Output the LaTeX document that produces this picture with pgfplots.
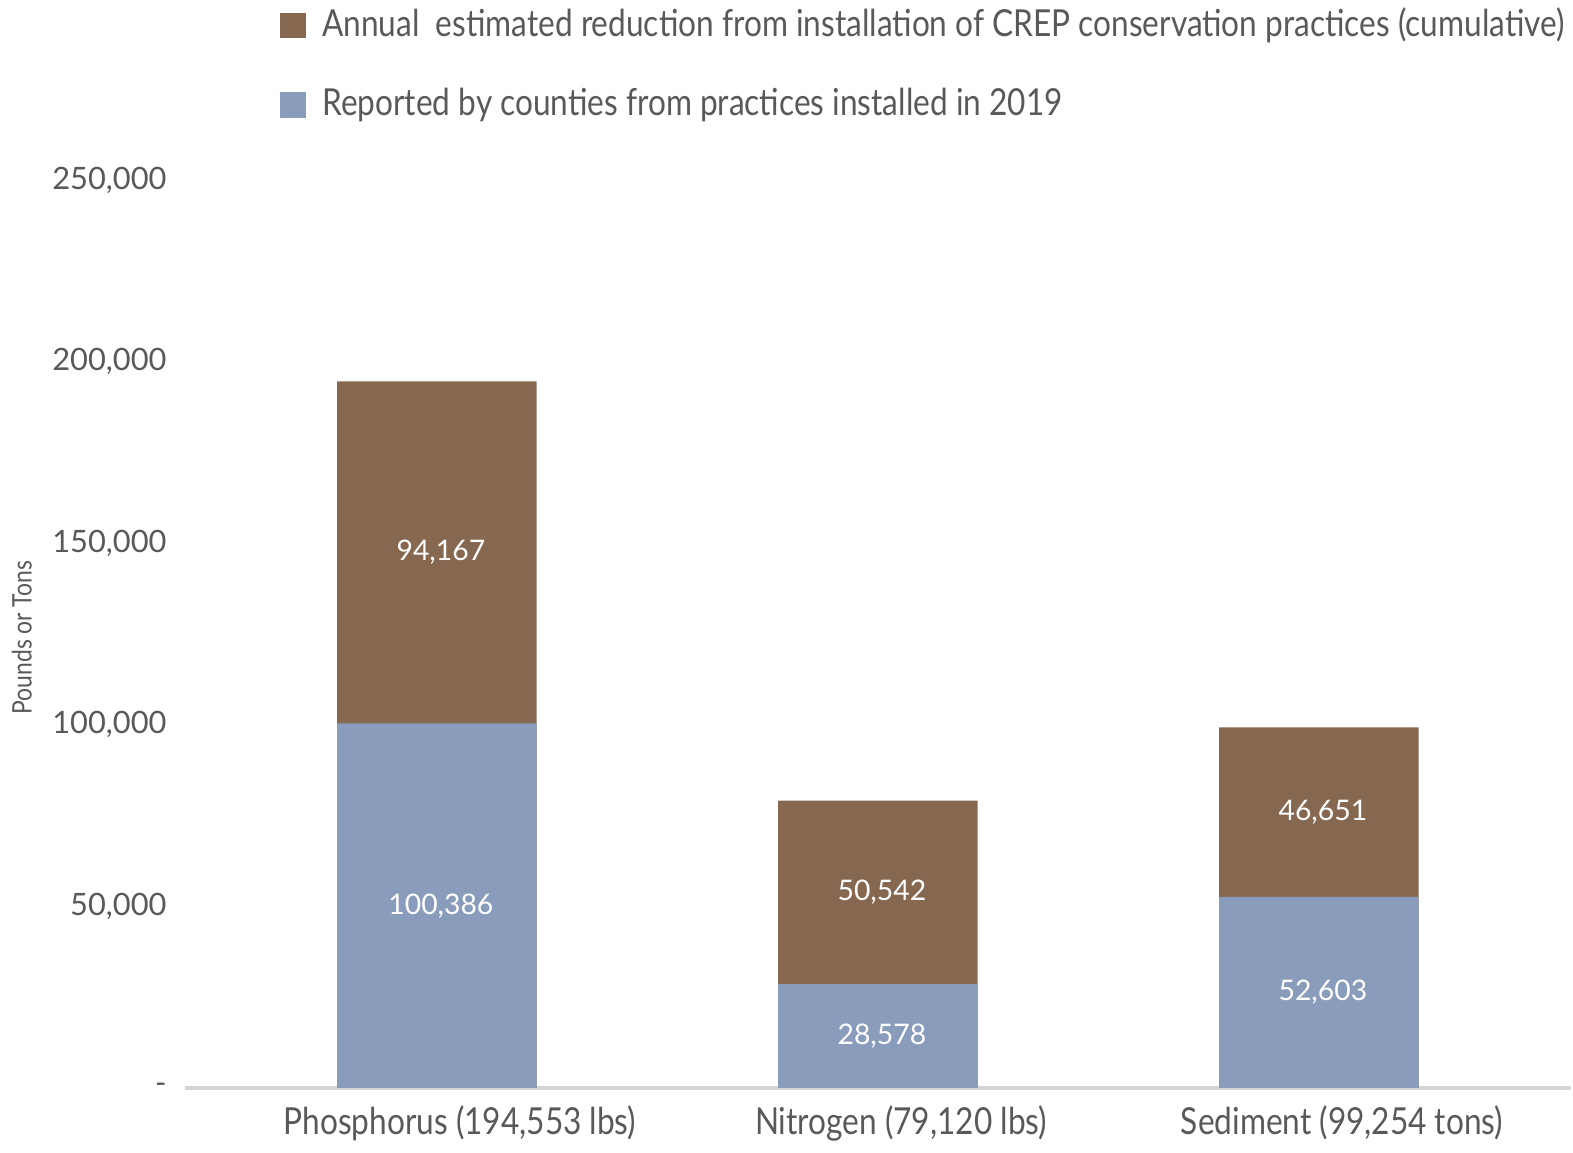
\documentclass[border=0pt]{standalone}
\usepackage{fontspec}
\setmainfont{Lato}[FakeStretch=0.85]
\newfontfamily\numfont{Lato}
\usepackage{pgfplots}
\pgfplotsset{compat=1.18}

\definecolor{crepbrown}{HTML}{866850}
\definecolor{crepblue}{HTML}{8A9CBB}
\definecolor{txtgray}{HTML}{595959}
\definecolor{axgray}{HTML}{D4D4D4}

\begin{document}
\begin{tikzpicture}
\begin{axis}[
    scale only axis,
    width=13.75cm, height=9.01cm,
    xmin=-0.571, xmax=2.571,
    ymin=0, ymax=250000,
    axis x line*=bottom, axis y line*=left,
    y axis line style={draw=none},
    x axis line style={draw=axgray, line width=1.3pt, -},
    major tick length=0pt,
    xtick={0,1,2},
    xticklabels={{Phosphorus (194,553 lbs)},{Nitrogen (79,120 lbs)},{Sediment (99,254 tons)}},
    xticklabel style={font=\fontsize{10.5}{12}\selectfont, text=txtgray, xshift=0.23cm, yshift=-0.05cm},
    scaled y ticks=false,
    ytick={0,50000,100000,150000,200000,250000},
    yticklabels={{-\hspace{0.25cm}},{50,000},{100,000},{150,000},{200,000},{250,000}},
    yticklabel style={font=\numfont\fontsize{8.7}{10}\selectfont, text=txtgray, anchor=east, xshift=-0.06cm},
    ylabel={Pounds or Tons},
    every axis y label/.style={at={(axis description cs:0,0.496)}, xshift=-1.62cm, rotate=90,
        anchor=center, font=\fontsize{7.6}{8}\selectfont, text=txtgray},
    legend style={at={(axis description cs:0.068,1.199)}, anchor=north west,
        draw=none, fill=none, row sep=0.3cm, inner sep=0pt,
        font=\fontsize{10.5}{12}\selectfont, text=txtgray,
        nodes={inner sep=0.08cm}},
    legend cell align=left,
    legend image code/.code={\fill[#1] (0cm,-0.125cm) rectangle (0.26cm,0.125cm);
        \path (0.34cm,0cm);},
    clip=false,
]
% total (brown, drawn full height), reported 2019 (blue, drawn over the bottom)
\addplot[ybar, bar width=1.98cm, bar shift=0pt, fill=crepbrown, draw=none] coordinates {
    (0,194553) (1,79120) (2,99254)
};
\addlegendentry{Annual\ \ estimated reduction from installation of CREP conservation practices (cumulative)}
\addplot[ybar, bar width=1.98cm, bar shift=0pt, fill=crepblue, draw=none] coordinates {
    (0,100386) (1,28578) (2,52603)
};
\addlegendentry{Reported by counties from practices installed in 2019}

% segment labels, at the middle of each segment
\addplot[draw=none, forget plot, nodes near coords, point meta=explicit symbolic,
    every node near coord/.append style={anchor=center, text=white, xshift=0.04cm,
        font=\numfont\fontsize{8}{10}\selectfont}]
    table[meta=label] {
x y label
0 50193 100,386
1 14289 28,578
2 26301 52,603
0 147470 94,167
1 53849 50,542
2 75928 46,651
};
\end{axis}
\end{tikzpicture}
\end{document}
